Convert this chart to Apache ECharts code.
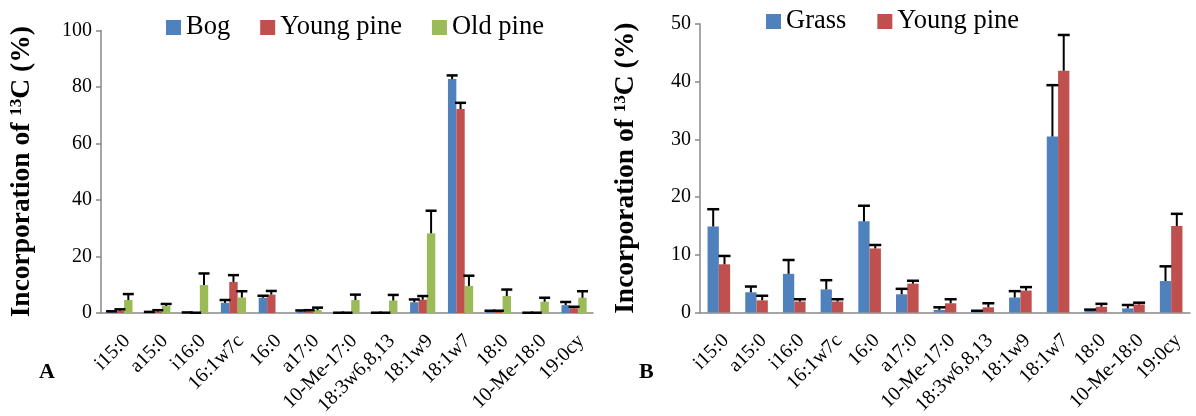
<!DOCTYPE html>
<html>
<head>
<meta charset="utf-8">
<script src="https://cdn.jsdelivr.net/npm/echarts@6/dist/echarts.min.js"></script>
<style>
  html, body { margin: 0; padding: 0; background: #fff; }
  #chart { width: 1196px; height: 416px; }
</style>
</head>
<body>
<div id="chart"></div>
<script>
var categories = ['i15:0', 'a15:0', 'i16:0', '16:1w7c', '16:0', 'a17:0', '10-Me-17:0',
    '18:3w6,8,13', '18:1w9', '18:1w7', '18:0', '10-Me-18:0', '19:0cy'];

// panel A
var bog      = [0.3, 0.2, 0.1, 3.6, 5.4, 0.5, 0.1, 0.1, 3.8, 82.8, 0.5, 0.1, 2.8];
var bogErr   = [0.3, 0.2, 0.1, 1.0, 0.7, 0.4, 0.0, 0.0, 1.0, 1.3, 0.3, 0.0, 1.1];
var young    = [0.8, 0.5, 0.1, 11.0, 6.5, 0.6, 0.1, 0.1, 4.7, 72.2, 0.5, 0.1, 1.7];
var youngErr = [0.5, 0.5, 0.0, 2.4, 1.3, 0.4, 0.0, 0.0, 1.3, 2.2, 0.3, 0.0, 0.5];
var oldPine  = [4.6, 2.5, 9.9, 5.5, null, 1.0, 4.6, 4.4, 28.2, 9.6, 6.0, 4.0, 5.4];
var oldErr   = [2.1, 0.7, 4.1, 2.2, null, 0.9, 1.9, 2.0, 8.0, 3.6, 2.3, 1.4, 2.3];

// panel B
var grass     = [14.9, 3.5, 6.7, 4.0, 15.8, 3.15, 0.45, 0.2, 2.6, 30.5, 0.35, 0.7, 5.45];
var grassErr  = [3.0, 1.0, 2.4, 1.6, 2.7, 0.95, 0.45, 0.1, 1.1, 8.9, 0.15, 0.6, 2.55];
var youngB    = [8.35, 2.1, 1.9, 1.9, 11.1, 5.0, 1.6, 0.9, 3.8, 41.9, 1.0, 1.4, 15.0];
var youngBErr = [1.45, 0.8, 0.4, 0.4, 0.6, 0.5, 0.7, 0.7, 0.6, 6.2, 0.5, 0.3, 2.1];

var BLUE = '#4F81BD', RED = '#C0504D', GREEN = '#9BBB59';
var FONT = 'Liberation Serif';

function barSeries(name, data, color, axis, bw) {
    return {
        name: name, type: 'bar', xAxisIndex: axis, yAxisIndex: axis,
        data: data, barWidth: bw, barGap: '0%',
        itemStyle: { color: color }, z: 2
    };
}

// upper error bar with cap, placed over bar number idx of n
function errSeries(vals, errs, axis, idx, n, bw, cap) {
    var d = [];
    for (var i = 0; i < vals.length; i++) {
        if (vals[i] == null) continue;
        d.push([i, vals[i], vals[i] + errs[i]]);
    }
    return {
        type: 'custom', xAxisIndex: axis, yAxisIndex: axis, z: 3,
        silent: true, data: d,
        renderItem: function (params, api) {
            var p0 = api.coord([api.value(0), api.value(1)]);
            var p1 = api.coord([api.value(0), api.value(2)]);
            var x = p0[0] + (idx - (n - 1) / 2) * bw;
            return {
                type: 'group',
                children: [
                    { type: 'line', shape: { x1: x, y1: p0[1], x2: x, y2: p1[1] }, style: { stroke: '#000', lineWidth: 2 } },
                    { type: 'line', shape: { x1: x - cap / 2, y1: p1[1], x2: x + cap / 2, y2: p1[1] }, style: { stroke: '#000', lineWidth: 2.5 } }
                ]
            };
        }
    };
}

function xAx(gi) {
    return {
        type: 'category', gridIndex: gi, data: categories,
        axisLine: { lineStyle: { color: '#888', width: 1.5 } },
        axisTick: { length: 5, lineStyle: { color: '#888', width: 1.5 } },
        axisLabel: { interval: 0, rotate: 45, verticalAlign: 'top', color: '#000',
            fontFamily: FONT, fontSize: 20, margin: 18 }
    };
}

function yAx(gi, max, step, gap) {
    return {
        type: 'value', gridIndex: gi, min: 0, max: max, interval: step,
        name: '{b|Incorporation of }{s|13}{b|C (%)}',
        nameLocation: 'middle', nameGap: gap,
        nameTextStyle: {
            rich: {
                b: { fontFamily: FONT, fontSize: 27.5, fontWeight: 'bold', color: '#000' },
                s: { fontFamily: FONT, fontSize: 17, fontWeight: 'bold', color: '#000', padding: [0, 0, 11, 0] }
            }
        },
        axisLine: { show: true, lineStyle: { color: '#888', width: 1.5 } },
        axisTick: { show: true, length: 5, lineStyle: { color: '#888', width: 1.5 } },
        splitLine: { show: false },
        axisLabel: { color: '#000', fontFamily: FONT, fontSize: 20, margin: 9 }
    };
}

var legendText = { fontFamily: FONT, fontSize: 26.5, color: '#000' };

var option = {
    animation: false,
    backgroundColor: '#fff',
    grid: [
        { left: 101, top: 30.5, width: 492, height: 282.5, outerBoundsMode: 'none' },
        { left: 700, top: 24, width: 490, height: 288.5, outerBoundsMode: 'none' }
    ],
    legend: [
        { data: ['Bog', 'Young pine', 'Old pine'], left: 166, top: 14, padding: 0,
          icon: 'rect', itemWidth: 15, itemHeight: 15, itemGap: 30, textStyle: legendText },
        { data: ['Grass', 'Young pine'], left: 766, top: 8, padding: 0,
          icon: 'rect', itemWidth: 15, itemHeight: 15, itemGap: 31, textStyle: legendText }
    ],
    xAxis: [xAx(0), xAx(1)],
    yAxis: [yAx(0, 100, 20, 65), yAx(1, 50, 10, 60)],
    series: [
        barSeries('Bog', bog, BLUE, 0, 8.4),
        barSeries('Young pine', young, RED, 0, 8.4),
        barSeries('Old pine', oldPine, GREEN, 0, 8.4),
        errSeries(bog, bogErr, 0, 0, 3, 8.4, 11),
        errSeries(young, youngErr, 0, 1, 3, 8.4, 11),
        errSeries(oldPine, oldErr, 0, 2, 3, 8.4, 11),
        barSeries('Grass', grass, BLUE, 1, 11.3),
        barSeries('Young pine', youngB, RED, 1, 11.3),
        errSeries(grass, grassErr, 1, 0, 2, 11.3, 12),
        errSeries(youngB, youngBErr, 1, 1, 2, 11.3, 12)
    ],
    graphic: [
        { type: 'text', left: 39, top: 361, style: { text: 'A', fontFamily: FONT, fontSize: 22, fontWeight: 'bold', fill: '#000' } },
        { type: 'text', left: 639, top: 361, style: { text: 'B', fontFamily: FONT, fontSize: 22, fontWeight: 'bold', fill: '#000' } }
    ]
};

var myChart = echarts.init(document.getElementById('chart'));
myChart.setOption(option);
</script>
</body>
</html>
